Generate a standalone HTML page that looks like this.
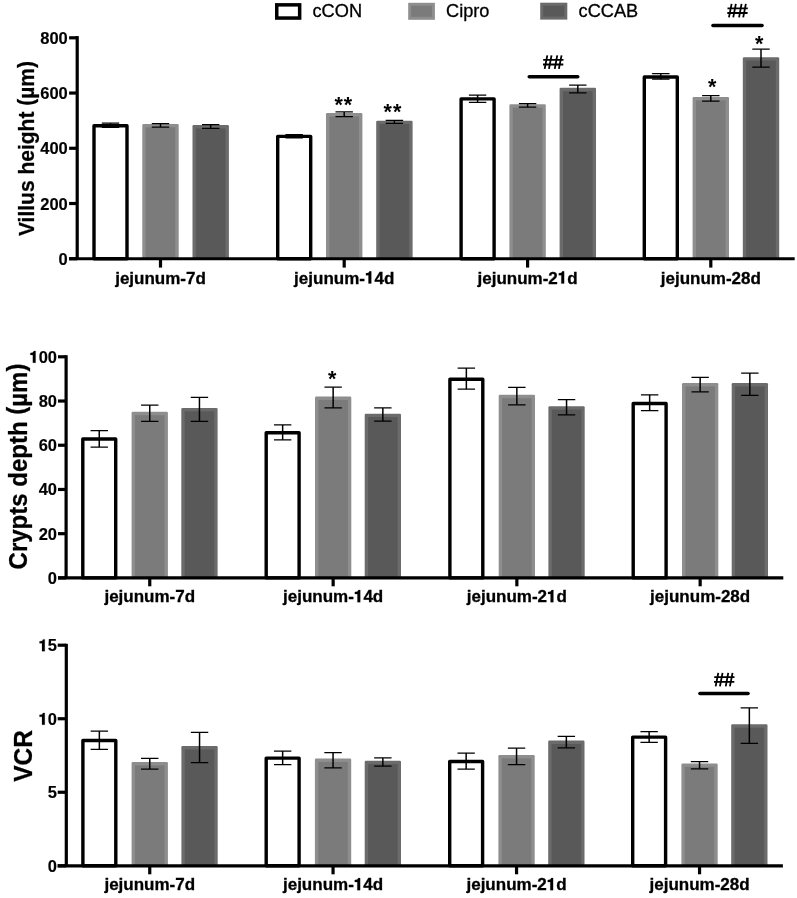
<!DOCTYPE html>
<html><head><meta charset="utf-8"><style>
html,body{margin:0;padding:0;background:#fff;}
svg{display:block;filter:grayscale(1) blur(0.5px);}
text{font-family:"Liberation Sans", sans-serif;fill:#000;}
.yl{font-size:16.5px;font-weight:bold;stroke:#000;stroke-width:0.15px;}
.xl{font-size:17px;font-weight:bold;stroke:#000;stroke-width:0.3px;}
.tt{font-weight:bold;stroke:#000;stroke-width:0.25px;}
.st{font-weight:bold;letter-spacing:1.1px;}
.lg{font-size:18.2px;stroke:#000;stroke-width:0.3px;}
.h1{fill-opacity:0;stroke-opacity:0;}
</style></head><body>
<svg width="797" height="898" viewBox="0 0 797 898">
<rect width="797" height="898" fill="#fff"/>
<rect x="94" y="125.8" width="33" height="132.95" fill="#fff" stroke="#000" stroke-width="3.4" stroke-linejoin="round"/>
<path d="M101.8 123.2H119.2M101.8 127.3H119.2" stroke="#000" stroke-width="1.25" fill="none"/>
<path d="M110.5 123.2V127.3" stroke="#000" stroke-width="1.5" fill="none"/>
<rect x="142.3" y="123.9" width="36.4" height="134.85" rx="1.2" fill="#8e8e8e"/>
<rect x="145.7" y="127.3" width="29.6" height="131.45" fill="#7b7b7b"/>
<path d="M151.8 123.6H169.2M151.8 127.1H169.2" stroke="#000" stroke-width="1.25" fill="none"/>
<path d="M160.5 123.6V127.1" stroke="#000" stroke-width="1.5" fill="none"/>
<rect x="192.5" y="125.1" width="36.4" height="133.65" rx="1.2" fill="#6b6b6b"/>
<rect x="195.9" y="128.5" width="29.6" height="130.25" fill="#595959"/>
<path d="M202 124.7H219.4M202 128.3H219.4" stroke="#000" stroke-width="1.25" fill="none"/>
<path d="M210.7 124.7V128.3" stroke="#000" stroke-width="1.5" fill="none"/>
<rect x="277.7" y="136.4" width="33" height="122.35" fill="#fff" stroke="#000" stroke-width="3.4" stroke-linejoin="round"/>
<path d="M285.5 134.5H302.9M285.5 137.8H302.9" stroke="#000" stroke-width="1.25" fill="none"/>
<path d="M294.2 134.5V137.8" stroke="#000" stroke-width="1.5" fill="none"/>
<rect x="326" y="113.1" width="36.4" height="145.65" rx="1.2" fill="#8e8e8e"/>
<rect x="329.4" y="116.5" width="29.6" height="142.25" fill="#7b7b7b"/>
<path d="M335.5 111.9H352.9M335.5 116.5H352.9" stroke="#000" stroke-width="1.25" fill="none"/>
<path d="M344.2 111.9V116.5" stroke="#000" stroke-width="1.5" fill="none"/>
<rect x="376.2" y="120.7" width="36.4" height="138.05" rx="1.2" fill="#6b6b6b"/>
<rect x="379.6" y="124.1" width="29.6" height="134.65" fill="#595959"/>
<path d="M385.7 120.4H403.1M385.7 123.3H403.1" stroke="#000" stroke-width="1.25" fill="none"/>
<path d="M394.4 120.4V123.3" stroke="#000" stroke-width="1.5" fill="none"/>
<rect x="461.1" y="98.9" width="33" height="159.85" fill="#fff" stroke="#000" stroke-width="3.4" stroke-linejoin="round"/>
<path d="M468.9 95H486.3M468.9 102.4H486.3" stroke="#000" stroke-width="1.25" fill="none"/>
<path d="M477.6 95V102.4" stroke="#000" stroke-width="1.5" fill="none"/>
<rect x="509.4" y="104.2" width="36.4" height="154.55" rx="1.2" fill="#8e8e8e"/>
<rect x="512.8" y="107.6" width="29.6" height="151.15" fill="#7b7b7b"/>
<path d="M518.9 103.6H536.3M518.9 107.2H536.3" stroke="#000" stroke-width="1.25" fill="none"/>
<path d="M527.6 103.6V107.2" stroke="#000" stroke-width="1.5" fill="none"/>
<rect x="559.6" y="87.8" width="36.4" height="170.95" rx="1.2" fill="#6b6b6b"/>
<rect x="563" y="91.2" width="29.6" height="167.55" fill="#595959"/>
<path d="M569.1 85.1H586.5M569.1 92.8H586.5" stroke="#000" stroke-width="1.25" fill="none"/>
<path d="M577.8 85.1V92.8" stroke="#000" stroke-width="1.5" fill="none"/>
<rect x="644.3" y="77" width="33" height="181.75" fill="#fff" stroke="#000" stroke-width="3.4" stroke-linejoin="round"/>
<path d="M652.1 73.6H669.5M652.1 79.2H669.5" stroke="#000" stroke-width="1.25" fill="none"/>
<path d="M660.8 73.6V79.2" stroke="#000" stroke-width="1.5" fill="none"/>
<rect x="692.6" y="97" width="36.4" height="161.75" rx="1.2" fill="#8e8e8e"/>
<rect x="696" y="100.4" width="29.6" height="158.35" fill="#7b7b7b"/>
<path d="M702.1 95.5H719.5M702.1 101.2H719.5" stroke="#000" stroke-width="1.25" fill="none"/>
<path d="M710.8 95.5V101.2" stroke="#000" stroke-width="1.5" fill="none"/>
<rect x="742.8" y="57.2" width="36.4" height="201.55" rx="1.2" fill="#6b6b6b"/>
<rect x="746.2" y="60.6" width="29.6" height="198.15" fill="#595959"/>
<path d="M752.3 49.2H769.7M752.3 67.2H769.7" stroke="#000" stroke-width="1.25" fill="none"/>
<path d="M761 49.2V67.2" stroke="#000" stroke-width="1.5" fill="none"/>
<path d="M77.2 36.1V258.75" stroke="#000" stroke-width="3.2" fill="none"/>
<path d="M69.1 258.75H794.7" stroke="#000" stroke-width="3.2" fill="none"/>
<path d="M69.1 258.75H77.2" stroke="#000" stroke-width="3.2" fill="none"/>
<text x="67.8" y="264.75" text-anchor="end" class="yl">0</text>
<path d="M69.1 203.51H77.2" stroke="#000" stroke-width="3.2" fill="none"/>
<text x="67.8" y="209.51" text-anchor="end" class="yl">200</text>
<path d="M69.1 148.28H77.2" stroke="#000" stroke-width="3.2" fill="none"/>
<text x="67.8" y="154.28" text-anchor="end" class="yl">400</text>
<path d="M69.1 93.04H77.2" stroke="#000" stroke-width="3.2" fill="none"/>
<text x="67.8" y="99.04" text-anchor="end" class="yl">600</text>
<path d="M69.1 37.8H77.2" stroke="#000" stroke-width="3.2" fill="none"/>
<text x="67.8" y="43.8" text-anchor="end" class="yl">800</text>
<path d="M160.5 258.75V267.6" stroke="#000" stroke-width="3.2" fill="none"/>
<text x="160.5" y="283.5" text-anchor="middle" class="xl">jejunum-7d</text>
<path d="M344.2 258.75V267.6" stroke="#000" stroke-width="3.2" fill="none"/>
<text x="344.2" y="283.5" text-anchor="middle" class="xl">jejunum-<tspan class="h1" id="o1">1</tspan>4d</text>
<path d="M527.6 258.75V267.6" stroke="#000" stroke-width="3.2" fill="none"/>
<text x="527.6" y="283.5" text-anchor="middle" class="xl">jejunum-2<tspan class="h1" id="o2">1</tspan>d</text>
<path d="M710.8 258.75V267.6" stroke="#000" stroke-width="3.2" fill="none"/>
<text x="710.8" y="283.5" text-anchor="middle" class="xl">jejunum-28d</text>
<text transform="translate(34.2 148.5) rotate(-90) scale(1 1.08)" text-anchor="middle" class="tt" style="font-size:21px">Villus height <tspan dy="-1.4">(</tspan><tspan dy="1.4">µm</tspan><tspan dy="-1.4">)</tspan></text>
<rect x="82.8" y="439" width="32.9" height="138.9" fill="#fff" stroke="#000" stroke-width="3.4" stroke-linejoin="round"/>
<path d="M90.55 430.5H107.95M90.55 447.1H107.95" stroke="#000" stroke-width="1.25" fill="none"/>
<path d="M99.25 430.5V447.1" stroke="#000" stroke-width="1.5" fill="none"/>
<rect x="131.6" y="411.8" width="36.3" height="166.1" rx="1.2" fill="#8e8e8e"/>
<rect x="135" y="415.2" width="29.5" height="162.7" fill="#7b7b7b"/>
<path d="M141.05 405H158.45M141.05 421.3H158.45" stroke="#000" stroke-width="1.25" fill="none"/>
<path d="M149.75 405V421.3" stroke="#000" stroke-width="1.5" fill="none"/>
<rect x="181.3" y="407.9" width="36.3" height="170" rx="1.2" fill="#6b6b6b"/>
<rect x="184.7" y="411.3" width="29.5" height="166.6" fill="#595959"/>
<path d="M190.75 397.3H208.15M190.75 421.3H208.15" stroke="#000" stroke-width="1.25" fill="none"/>
<path d="M199.45 397.3V421.3" stroke="#000" stroke-width="1.5" fill="none"/>
<rect x="266.2" y="432.8" width="32.9" height="145.1" fill="#fff" stroke="#000" stroke-width="3.4" stroke-linejoin="round"/>
<path d="M273.95 424.9H291.35M273.95 439.8H291.35" stroke="#000" stroke-width="1.25" fill="none"/>
<path d="M282.65 424.9V439.8" stroke="#000" stroke-width="1.5" fill="none"/>
<rect x="315" y="396.6" width="36.3" height="181.3" rx="1.2" fill="#8e8e8e"/>
<rect x="318.4" y="400" width="29.5" height="177.9" fill="#7b7b7b"/>
<path d="M324.45 387.2H341.85M324.45 407.9H341.85" stroke="#000" stroke-width="1.25" fill="none"/>
<path d="M333.15 387.2V407.9" stroke="#000" stroke-width="1.5" fill="none"/>
<rect x="364.7" y="413.7" width="36.3" height="164.2" rx="1.2" fill="#6b6b6b"/>
<rect x="368.1" y="417.1" width="29.5" height="160.8" fill="#595959"/>
<path d="M374.15 407.9H391.55M374.15 421H391.55" stroke="#000" stroke-width="1.25" fill="none"/>
<path d="M382.85 407.9V421" stroke="#000" stroke-width="1.5" fill="none"/>
<rect x="449.9" y="379.2" width="32.9" height="198.7" fill="#fff" stroke="#000" stroke-width="3.4" stroke-linejoin="round"/>
<path d="M457.65 368.1H475.05M457.65 389.2H475.05" stroke="#000" stroke-width="1.25" fill="none"/>
<path d="M466.35 368.1V389.2" stroke="#000" stroke-width="1.5" fill="none"/>
<rect x="498.7" y="394.8" width="36.3" height="183.1" rx="1.2" fill="#8e8e8e"/>
<rect x="502.1" y="398.2" width="29.5" height="179.7" fill="#7b7b7b"/>
<path d="M508.15 387.4H525.55M508.15 404.8H525.55" stroke="#000" stroke-width="1.25" fill="none"/>
<path d="M516.85 387.4V404.8" stroke="#000" stroke-width="1.5" fill="none"/>
<rect x="548.4" y="406.2" width="36.3" height="171.7" rx="1.2" fill="#6b6b6b"/>
<rect x="551.8" y="409.6" width="29.5" height="168.3" fill="#595959"/>
<path d="M557.85 399.6H575.25M557.85 414.9H575.25" stroke="#000" stroke-width="1.25" fill="none"/>
<path d="M566.55 399.6V414.9" stroke="#000" stroke-width="1.5" fill="none"/>
<rect x="633.2" y="403.5" width="32.9" height="174.4" fill="#fff" stroke="#000" stroke-width="3.4" stroke-linejoin="round"/>
<path d="M640.95 394.8H658.35M640.95 410.6H658.35" stroke="#000" stroke-width="1.25" fill="none"/>
<path d="M649.65 394.8V410.6" stroke="#000" stroke-width="1.5" fill="none"/>
<rect x="682" y="383.1" width="36.3" height="194.8" rx="1.2" fill="#8e8e8e"/>
<rect x="685.4" y="386.5" width="29.5" height="191.4" fill="#7b7b7b"/>
<path d="M691.45 377.4H708.85M691.45 391.8H708.85" stroke="#000" stroke-width="1.25" fill="none"/>
<path d="M700.15 377.4V391.8" stroke="#000" stroke-width="1.5" fill="none"/>
<rect x="731.7" y="383.1" width="36.3" height="194.8" rx="1.2" fill="#6b6b6b"/>
<rect x="735.1" y="386.5" width="29.5" height="191.4" fill="#595959"/>
<path d="M741.15 373.1H758.55M741.15 395.4H758.55" stroke="#000" stroke-width="1.25" fill="none"/>
<path d="M749.85 373.1V395.4" stroke="#000" stroke-width="1.5" fill="none"/>
<path d="M66.1 355.2V577.9" stroke="#000" stroke-width="3.2" fill="none"/>
<path d="M58 577.9H783.3" stroke="#000" stroke-width="3.2" fill="none"/>
<path d="M58 577.9H66.1" stroke="#000" stroke-width="3.2" fill="none"/>
<text x="57" y="583.9" text-anchor="end" class="yl">0</text>
<path d="M58 533.68H66.1" stroke="#000" stroke-width="3.2" fill="none"/>
<text x="57" y="539.68" text-anchor="end" class="yl">20</text>
<path d="M58 489.46H66.1" stroke="#000" stroke-width="3.2" fill="none"/>
<text x="57" y="495.46" text-anchor="end" class="yl">40</text>
<path d="M58 445.24H66.1" stroke="#000" stroke-width="3.2" fill="none"/>
<text x="57" y="451.24" text-anchor="end" class="yl">60</text>
<path d="M58 401.02H66.1" stroke="#000" stroke-width="3.2" fill="none"/>
<text x="57" y="407.02" text-anchor="end" class="yl">80</text>
<path d="M58 356.8H66.1" stroke="#000" stroke-width="3.2" fill="none"/>
<text x="57" y="362.8" text-anchor="end" class="yl"><tspan class="h1" id="o3">1</tspan>00</text>
<path d="M149.75 577.9V586.3" stroke="#000" stroke-width="3.2" fill="none"/>
<text x="149.75" y="602.2" text-anchor="middle" class="xl">jejunum-7d</text>
<path d="M333.15 577.9V586.3" stroke="#000" stroke-width="3.2" fill="none"/>
<text x="333.15" y="602.2" text-anchor="middle" class="xl">jejunum-<tspan class="h1" id="o4">1</tspan>4d</text>
<path d="M516.85 577.9V586.3" stroke="#000" stroke-width="3.2" fill="none"/>
<text x="516.85" y="602.2" text-anchor="middle" class="xl">jejunum-2<tspan class="h1" id="o5">1</tspan>d</text>
<path d="M700.15 577.9V586.3" stroke="#000" stroke-width="3.2" fill="none"/>
<text x="700.15" y="602.2" text-anchor="middle" class="xl">jejunum-28d</text>
<text transform="translate(26.9 466.5) rotate(-90) scale(1 1.08)" text-anchor="middle" class="tt" style="font-size:24px">Crypts depth <tspan dy="-1.4">(</tspan><tspan dy="1.4">µm</tspan><tspan dy="-1.4">)</tspan></text>
<rect x="82.9" y="740.5" width="32.9" height="125.3" fill="#fff" stroke="#000" stroke-width="3.4" stroke-linejoin="round"/>
<path d="M90.65 731.1H108.05M90.65 749.3H108.05" stroke="#000" stroke-width="1.25" fill="none"/>
<path d="M99.35 731.1V749.3" stroke="#000" stroke-width="1.5" fill="none"/>
<rect x="131.6" y="762" width="36.3" height="103.8" rx="1.2" fill="#8e8e8e"/>
<rect x="135" y="765.4" width="29.5" height="100.4" fill="#7b7b7b"/>
<path d="M141.05 758.3H158.45M141.05 769.1H158.45" stroke="#000" stroke-width="1.25" fill="none"/>
<path d="M149.75 758.3V769.1" stroke="#000" stroke-width="1.5" fill="none"/>
<rect x="181.4" y="746.1" width="36.3" height="119.7" rx="1.2" fill="#6b6b6b"/>
<rect x="184.8" y="749.5" width="29.5" height="116.3" fill="#595959"/>
<path d="M190.85 732.3H208.25M190.85 762.5H208.25" stroke="#000" stroke-width="1.25" fill="none"/>
<path d="M199.55 732.3V762.5" stroke="#000" stroke-width="1.5" fill="none"/>
<rect x="266.2" y="758.1" width="32.9" height="107.7" fill="#fff" stroke="#000" stroke-width="3.4" stroke-linejoin="round"/>
<path d="M273.95 751.1H291.35M273.95 764.6H291.35" stroke="#000" stroke-width="1.25" fill="none"/>
<path d="M282.65 751.1V764.6" stroke="#000" stroke-width="1.5" fill="none"/>
<rect x="314.9" y="758.6" width="36.3" height="107.2" rx="1.2" fill="#8e8e8e"/>
<rect x="318.3" y="762" width="29.5" height="103.8" fill="#7b7b7b"/>
<path d="M324.35 752.7H341.75M324.35 767.9H341.75" stroke="#000" stroke-width="1.25" fill="none"/>
<path d="M333.05 752.7V767.9" stroke="#000" stroke-width="1.5" fill="none"/>
<rect x="364.7" y="760.8" width="36.3" height="105" rx="1.2" fill="#6b6b6b"/>
<rect x="368.1" y="764.2" width="29.5" height="101.6" fill="#595959"/>
<path d="M374.15 757.9H391.55M374.15 766.2H391.55" stroke="#000" stroke-width="1.25" fill="none"/>
<path d="M382.85 757.9V766.2" stroke="#000" stroke-width="1.5" fill="none"/>
<rect x="449.7" y="761.5" width="32.9" height="104.3" fill="#fff" stroke="#000" stroke-width="3.4" stroke-linejoin="round"/>
<path d="M457.45 753.1H474.85M457.45 769.1H474.85" stroke="#000" stroke-width="1.25" fill="none"/>
<path d="M466.15 753.1V769.1" stroke="#000" stroke-width="1.5" fill="none"/>
<rect x="498.4" y="755" width="36.3" height="110.8" rx="1.2" fill="#8e8e8e"/>
<rect x="501.8" y="758.4" width="29.5" height="107.4" fill="#7b7b7b"/>
<path d="M507.85 748.2H525.25M507.85 764.5H525.25" stroke="#000" stroke-width="1.25" fill="none"/>
<path d="M516.55 748.2V764.5" stroke="#000" stroke-width="1.5" fill="none"/>
<rect x="548.2" y="740.6" width="36.3" height="125.2" rx="1.2" fill="#6b6b6b"/>
<rect x="551.6" y="744" width="29.5" height="121.8" fill="#595959"/>
<path d="M557.65 736.3H575.05M557.65 747.8H575.05" stroke="#000" stroke-width="1.25" fill="none"/>
<path d="M566.35 736.3V747.8" stroke="#000" stroke-width="1.5" fill="none"/>
<rect x="632.7" y="737.1" width="32.9" height="128.7" fill="#fff" stroke="#000" stroke-width="3.4" stroke-linejoin="round"/>
<path d="M640.45 731.7H657.85M640.45 742.4H657.85" stroke="#000" stroke-width="1.25" fill="none"/>
<path d="M649.15 731.7V742.4" stroke="#000" stroke-width="1.5" fill="none"/>
<rect x="681.4" y="763.5" width="36.3" height="102.3" rx="1.2" fill="#8e8e8e"/>
<rect x="684.8" y="766.9" width="29.5" height="98.9" fill="#7b7b7b"/>
<path d="M690.85 761.6H708.25M690.85 768.8H708.25" stroke="#000" stroke-width="1.25" fill="none"/>
<path d="M699.55 761.6V768.8" stroke="#000" stroke-width="1.5" fill="none"/>
<rect x="731.2" y="724.3" width="36.3" height="141.5" rx="1.2" fill="#6b6b6b"/>
<rect x="734.6" y="727.7" width="29.5" height="138.1" fill="#595959"/>
<path d="M740.65 707.9H758.05M740.65 743.3H758.05" stroke="#000" stroke-width="1.25" fill="none"/>
<path d="M749.35 707.9V743.3" stroke="#000" stroke-width="1.5" fill="none"/>
<path d="M66.3 643.8V865.8" stroke="#000" stroke-width="3.2" fill="none"/>
<path d="M57.7 865.8H782.9" stroke="#000" stroke-width="3.2" fill="none"/>
<path d="M57.7 865.8H66.3" stroke="#000" stroke-width="3.2" fill="none"/>
<text x="57" y="871.8" text-anchor="end" class="yl">0</text>
<path d="M57.7 792.27H66.3" stroke="#000" stroke-width="3.2" fill="none"/>
<text x="57" y="798.27" text-anchor="end" class="yl">5</text>
<path d="M57.7 718.73H66.3" stroke="#000" stroke-width="3.2" fill="none"/>
<text x="57" y="724.73" text-anchor="end" class="yl"><tspan class="h1" id="o6">1</tspan>0</text>
<path d="M57.7 645.2H66.3" stroke="#000" stroke-width="3.2" fill="none"/>
<text x="57" y="651.2" text-anchor="end" class="yl"><tspan class="h1" id="o7">1</tspan>5</text>
<path d="M149.75 865.8V874.3" stroke="#000" stroke-width="3.2" fill="none"/>
<text x="149.75" y="890.2" text-anchor="middle" class="xl">jejunum-7d</text>
<path d="M333.05 865.8V874.3" stroke="#000" stroke-width="3.2" fill="none"/>
<text x="333.05" y="890.2" text-anchor="middle" class="xl">jejunum-<tspan class="h1" id="o8">1</tspan>4d</text>
<path d="M516.55 865.8V874.3" stroke="#000" stroke-width="3.2" fill="none"/>
<text x="516.55" y="890.2" text-anchor="middle" class="xl">jejunum-2<tspan class="h1" id="o9">1</tspan>d</text>
<path d="M699.55 865.8V874.3" stroke="#000" stroke-width="3.2" fill="none"/>
<text x="699.55" y="890.2" text-anchor="middle" class="xl">jejunum-28d</text>
<text transform="translate(32 756) rotate(-90) scale(1 1.08)" text-anchor="middle" class="tt" style="font-size:24.5px">VCR</text>
<text x="343.85" y="112.1" text-anchor="middle" class="st" style="font-size:21.5px">**</text>
<text x="392.95" y="119.1" text-anchor="middle" class="st" style="font-size:21.5px">**</text>
<text x="712.75" y="94.1" text-anchor="middle" class="st" style="font-size:21.5px">*</text>
<text x="759.85" y="51.4" text-anchor="middle" class="st" style="font-size:21.5px">*</text>
<path d="M529.3 76.8H577.7" stroke="#000" stroke-width="3.6" stroke-linecap="round" fill="none"/>
<path d="M547.3 55.4L544.65 68.9M551.55 55.4L548.95 68.9M557.25 55.4L554.75 68.9M561.55 55.4L558.9 68.9M543.2 59.8H563.5M543 64.5H563.3" stroke="#000" stroke-width="1.8" fill="none"/>
<path d="M713 25.5H762" stroke="#000" stroke-width="3.6" stroke-linecap="round" fill="none"/>
<path d="M731.6 3.9L728.95 17.4M735.85 3.9L733.25 17.4M741.55 3.9L739.05 17.4M745.85 3.9L743.2 17.4M727.5 8.3H747.8M727.3 13H747.6" stroke="#000" stroke-width="1.8" fill="none"/>
<text x="332.85" y="386.4" text-anchor="middle" class="st" style="font-size:21.5px">*</text>
<path d="M700 693.5H748" stroke="#000" stroke-width="3.6" stroke-linecap="round" fill="none"/>
<path d="M718.3 672.8L715.65 686.3M722.55 672.8L719.95 686.3M728.25 672.8L725.75 686.3M732.55 672.8L729.9 686.3M714.2 677.2H734.5M714 681.9H734.3" stroke="#000" stroke-width="1.8" fill="none"/>
<rect x="276.75" y="4.85" width="22.9" height="13.2" fill="#fff" stroke="#000" stroke-width="3.5"/>
<text x="312.5" y="16.9" class="lg">cCON</text>
<rect x="408.2" y="2.8" width="26.7" height="17" fill="#8e8e8e"/>
<rect x="411.2" y="5.8" width="20.7" height="11" fill="#7b7b7b"/>
<text x="446" y="16.9" class="lg">Cipro</text>
<rect x="540.2" y="2.7" width="27.1" height="16.9" fill="#6b6b6b"/>
<rect x="543.2" y="5.7" width="21.1" height="10.9" fill="#595959"/>
<text x="578.6" y="17.0" class="lg">cCCAB</text>
<path transform="translate(364.97 283.5) scale(0.0170 -0.0170)" d="M372 0V716H262C248 642 196 604 56 598V478H206V0Z" fill="#000" stroke="#000" stroke-width="11.8"/>
<path transform="translate(557.82 283.5) scale(0.0170 -0.0170)" d="M372 0V716H262C248 642 196 604 56 598V478H206V0Z" fill="#000" stroke="#000" stroke-width="11.8"/>
<path transform="translate(29.45 362.8) scale(0.0165 -0.0165)" d="M372 0V716H262C248 642 196 604 56 598V478H206V0Z" fill="#000" stroke="#000" stroke-width="12.1"/>
<path transform="translate(353.92 602.2) scale(0.0170 -0.0170)" d="M372 0V716H262C248 642 196 604 56 598V478H206V0Z" fill="#000" stroke="#000" stroke-width="11.8"/>
<path transform="translate(547.07 602.2) scale(0.0170 -0.0170)" d="M372 0V716H262C248 642 196 604 56 598V478H206V0Z" fill="#000" stroke="#000" stroke-width="11.8"/>
<path transform="translate(38.62 724.73) scale(0.0165 -0.0165)" d="M372 0V716H262C248 642 196 604 56 598V478H206V0Z" fill="#000" stroke="#000" stroke-width="12.1"/>
<path transform="translate(38.62 651.2) scale(0.0165 -0.0165)" d="M372 0V716H262C248 642 196 604 56 598V478H206V0Z" fill="#000" stroke="#000" stroke-width="12.1"/>
<path transform="translate(353.82 890.2) scale(0.0170 -0.0170)" d="M372 0V716H262C248 642 196 604 56 598V478H206V0Z" fill="#000" stroke="#000" stroke-width="11.8"/>
<path transform="translate(546.77 890.2) scale(0.0170 -0.0170)" d="M372 0V716H262C248 642 196 604 56 598V478H206V0Z" fill="#000" stroke="#000" stroke-width="11.8"/>
</svg>
</body></html>
